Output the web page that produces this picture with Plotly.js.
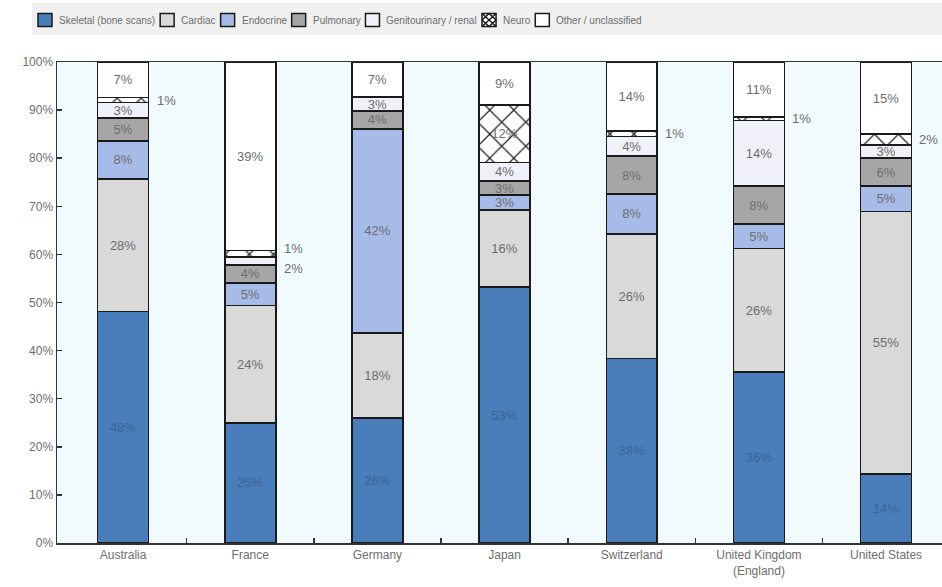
<!DOCTYPE html>
<html><head><meta charset="utf-8">
<script src="https://cdn.plot.ly/plotly-3.0.1.min.js"></script>
<style>html,body{margin:0;padding:0;background:#fff}</style>
</head><body><div id="chart" style="width:942px;height:587px"></div>
<script>
const countries = ['Australia','France','Germany','Japan','Switzerland','United Kingdom<br>(England)','United States'];
const seriesNames = ['Skeletal (bone scans)','Cardiac','Endocrine','Pulmonary','Genitourinary / renal','Neuro','Other / unclassified'];
const skeletal      = [48.1, 25.0, 26.0, 53.2, 38.4, 35.6, 14.3];
const cardiac       = [27.6, 24.4, 17.7, 16.0, 25.9, 25.6, 54.6];
const endocrine     = [ 7.9,  4.7, 42.4,  3.1,  8.2,  5.1,  5.3];
const pulmonary     = [ 4.7,  3.7,  3.7,  3.0,  7.9,  7.9,  5.8];
const genitourinary = [ 3.3,  1.6,  2.9,  3.8,  4.1, 13.6,  2.7];
const neuro         = [ 1.0,  1.4,  0.0, 11.9,  1.1,  0.8,  2.3];
const other         = [ 7.4, 39.2,  7.3,  9.0, 14.4, 11.4, 15.0];
const yTickVals = [0,10,20,30,40,50,60,70,80,90,100];
// segments whose labels sit outside, to the right of the bar
const outsideNeuro = [0,1,4,5,6];
const outsideGenito = [1];

const series = [skeletal, cardiac, endocrine, pulmonary, genitourinary, neuro, other];
const fills = ['#4a7ebb','#d9d9d9','#a7bbe8','#a6a6a6','#f0f0f8','#ffffff','#ffffff'];
const xIdx = countries.map((c,i)=>i);
const FONT = 'Liberation Sans, Arial, sans-serif';
const TXT = '#6e6e6e';

const traces = [];
const annotations = [];
const shapes = [];
const base = countries.map(()=>0);
series.forEach((vals, s) => {
  const texts = vals.map((v,i) => {
    if (!v) return '';
    const out = (s===5 && outsideNeuro.includes(i)) || (s===4 && outsideGenito.includes(i));
    if (out) {
      let ys = 0;
      if (i===1) ys = (s===5) ? 5 : -7;
      annotations.push({x: i+0.2, y: base[i]+v/2, xref:'x', yref:'y', text: Math.round(v)+'%',
        showarrow:false, xanchor:'left', yanchor:'middle', xshift:6, yshift:ys,
        font:{family:FONT, size:13, color:TXT}});
      return '';
    }
    return Math.round(v)+'%';
  });
  const t = {
    type:'bar', name: seriesNames[s], x: xIdx, y: vals.map(v=>v||null),
    text: texts, textposition:'inside', insidetextanchor:'middle', constraintext:'none',
    textangle:0,
    textfont:{family:FONT, size:13, color: s===0 ? '#3a6496' : TXT},
    marker:{color: fills[s], line:{color:'#1a1a1a', width:1.6}},
    width:0.4, hoverinfo:'skip', showlegend:false
  };
  if (s===5) t.marker.pattern = {shape:'x', fgcolor:'#222', bgcolor:'#ffffff', size:17, solidity:0.14};
  traces.push(t);
  vals.forEach((v,i)=>{ base[i]+=v; });
});

// ---- compact legend (text measured, laid out left to right) ----
const M = {l:57, r:0, t:62, b:44};
const W = 942, H = 587, PW = W - M.l - M.r, PH = H - M.t - M.b;
const px2x = p => (p - M.l) / PW;
const py2y = p => (H - M.b - p) / PH;
shapes.push({type:'rect', xref:'paper', yref:'paper', x0:px2x(32), x1:1, y0:py2y(35), y1:py2y(3),
  fillcolor:'#f0f0f0', line:{width:0}, layer:'below'});
const ctx = document.createElement('canvas').getContext('2d');
const LFS = 10;
ctx.font = LFS + 'px "Liberation Sans"';
let cx = 38;
const sy0 = 13.5, sy1 = 26.5;
seriesNames.forEach((n, s) => {
  const x0 = cx, x1 = cx + 14;
  shapes.push({type:'rect', xref:'paper', yref:'paper', x0:px2x(x0), x1:px2x(x1), y0:py2y(sy1), y1:py2y(sy0),
    fillcolor: fills[s], line:{color:'#1a1a1a', width:1.5}, layer:'above'});
  if (s===5) {
    const mx = (x0+x1)/2, my = (sy0+sy1)/2;
    const P = (a,b)=> px2x(a)+','+py2y(b);
    const path = 'M'+P(x0,sy0)+' L'+P(x1,sy1)+' M'+P(x0,sy1)+' L'+P(x1,sy0)+
      ' M'+P(mx,sy0)+' L'+P(x0,my)+' L'+P(mx,sy1)+' L'+P(x1,my)+' Z';
    shapes.push({type:'path', xref:'paper', yref:'paper', path:path, line:{color:'#111', width:1.3}, layer:'above'});
  }
  annotations.push({xref:'paper', yref:'paper', x:px2x(x1+5), y:py2y(20), text:n, showarrow:false,
    xanchor:'left', yanchor:'middle', font:{family:FONT, size:LFS, color:TXT}});
  cx = x1 + 5 + ctx.measureText(n).width + 7;
});

const layout = {
  width:W, height:H,
  margin:{l:M.l, r:M.r, t:M.t, b:M.b, pad:0},
  paper_bgcolor:'#ffffff', plot_bgcolor:'#f1fafd',
  barmode:'stack', showlegend:false,
  font:{family:FONT, size:12, color:TXT},
  xaxis:{type:'linear', range:[-0.52, 6.44], tickvals:xIdx, ticktext:countries,
    showgrid:false, zeroline:false, showline:true, linecolor:'#333', linewidth:1.5, mirror:true,
    ticks:'', tickfont:{size:12, color:TXT}, fixedrange:true},
  xaxis2:{overlaying:'x', range:[-0.52, 6.44], tickvals:[0.5,1.5,2.5,3.5,4.5,5.5], showticklabels:false,
    ticks:'inside', ticklen:5, tickcolor:'#333', tickwidth:1.5, showgrid:false, zeroline:false, anchor:'y', side:'bottom'},
  yaxis:{range:[0,100], tickvals:yTickVals, ticktext:yTickVals.map(v=>v+'%'),
    showgrid:false, zeroline:false, showline:true, linecolor:'#333', linewidth:1.5,
    ticks:'inside', ticklen:5, tickcolor:'#333', tickwidth:1.5, tickfont:{size:12, color:TXT}, fixedrange:true},
  shapes: shapes,
  annotations: annotations
};
traces.push({type:'scatter', x:[0], y:[null], xaxis:'x2', yaxis:'y', showlegend:false, hoverinfo:'skip'});
Plotly.newPlot('chart', traces, layout, {displayModeBar:false, staticPlot:true});
</script></body></html>
